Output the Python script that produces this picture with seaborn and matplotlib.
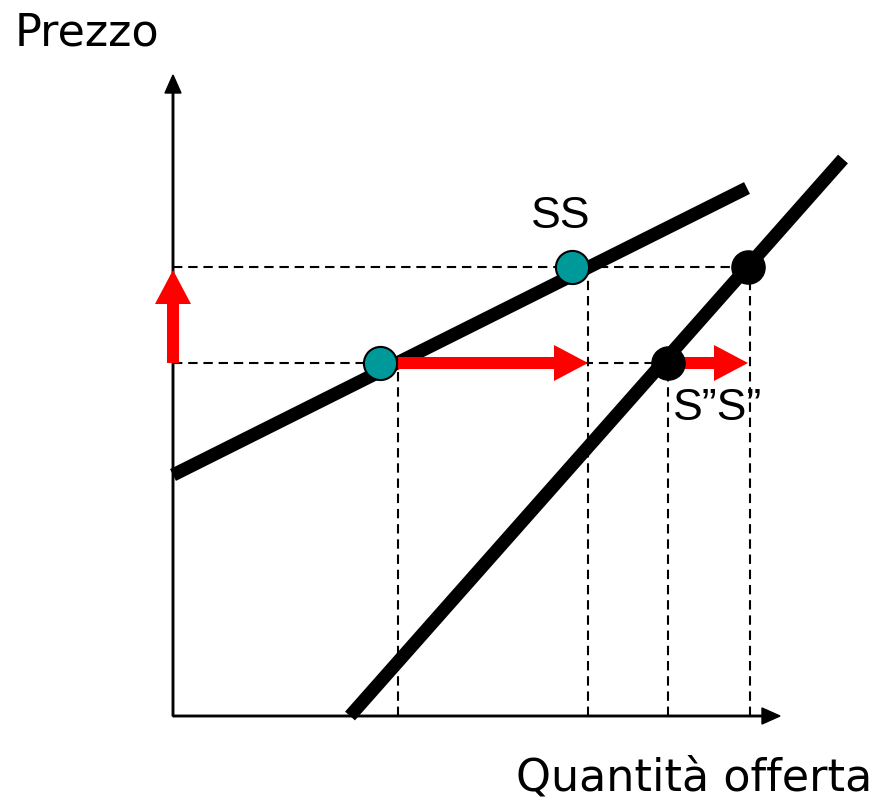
import numpy as np
import pandas as pd
import matplotlib.pyplot as plt
import seaborn as sns

sns.set_style("white")
plt.rcParams['font.family'] = ['DejaVu Sans']
plt.rcParams['text.color'] = 'black'

# curve di offerta (quantità, prezzo) - unità arbitrarie
ss_q = [0, 574]
ss_p = [241, 528]
s2_q = [177, 670]
s2_p = [0, 557]

# prezzi di riferimento e quantità corrispondenti
p_low, p_high = 353, 449
punti_ss_q = [207, 399]
punti_ss_p = [p_low, p_high]
punti_s2_q = [495, 575]
punti_s2_p = [p_low, p_high]
tratti_q = [225, 415, 495, 577]
tratti_p = [p_low, p_high, p_low, p_high]

fig = plt.figure(figsize=(8.75, 8.01), dpi=100)
ax = fig.add_axes([0, 0, 1, 1])
ax.set_xlim(-173, 702)
ax.set_ylim(-85, 716)
ax.axis('off')

# tratteggi
dash = dict(color='black', lw=1.5, ls=(0, (4.5, 2.8)), zorder=1)
ax.plot([0, punti_s2_q[1]], [p_high, p_high], **dash)
ax.plot([0, punti_s2_q[0]], [p_low, p_low], **dash)
for q, p in zip(tratti_q, tratti_p):
    ax.plot([q, q], [0, p], **dash)

# assi con frecce
ax.arrow(0, 0, 607, 0, width=1.5, head_width=16, head_length=18,
         length_includes_head=True, color='black', zorder=2)
ax.arrow(0, 0, 0, 641, width=1.5, head_width=16, head_length=18,
         length_includes_head=True, color='black', zorder=2)

# curve
df = pd.DataFrame({'q': ss_q + s2_q, 'p': ss_p + s2_p,
                   'curva': ['SS', 'SS', 'S2', 'S2']})
sns.lineplot(data=df, x='q', y='p', units='curva', estimator=None,
             color='black', lw=9.5, sort=False, ax=ax, zorder=3,
             solid_capstyle='butt')

# frecce rosse
rosso = dict(color='red', width=12, head_width=36, head_length=34,
             length_includes_head=True, zorder=4, lw=0)
ax.arrow(0, p_low, 0, p_high - p_low - 3, **rosso)
ax.arrow(tratti_q[0], p_low, tratti_q[1] - tratti_q[0], 0, **rosso)
ax.arrow(punti_s2_q[0] + 12, p_low, punti_s2_q[1] - punti_s2_q[0] - 12, 0, **rosso)

# punti
sns.scatterplot(x=punti_ss_q, y=punti_ss_p, s=570, color='#009999',
                edgecolor='black', linewidth=1.5, ax=ax, zorder=5)
sns.scatterplot(x=punti_s2_q, y=punti_s2_p, s=570, color='black',
                edgecolor='black', linewidth=1, ax=ax, zorder=5)

# testi
ax.text(-158, 671, 'Prezzo', fontsize=32, va='baseline', ha='left')
ax.text(699, -74, 'Quantità offerta', fontsize=32, va='baseline', ha='right')
ax.text(388, 488, 'SS', fontsize=32, family='Liberation Sans',
        va='baseline', ha='center')
ax.text(500, 296, 'S\u201dS\u201d', fontsize=32, family='Liberation Sans',
        va='baseline', ha='left')

fig.savefig('out.png', dpi=100)
